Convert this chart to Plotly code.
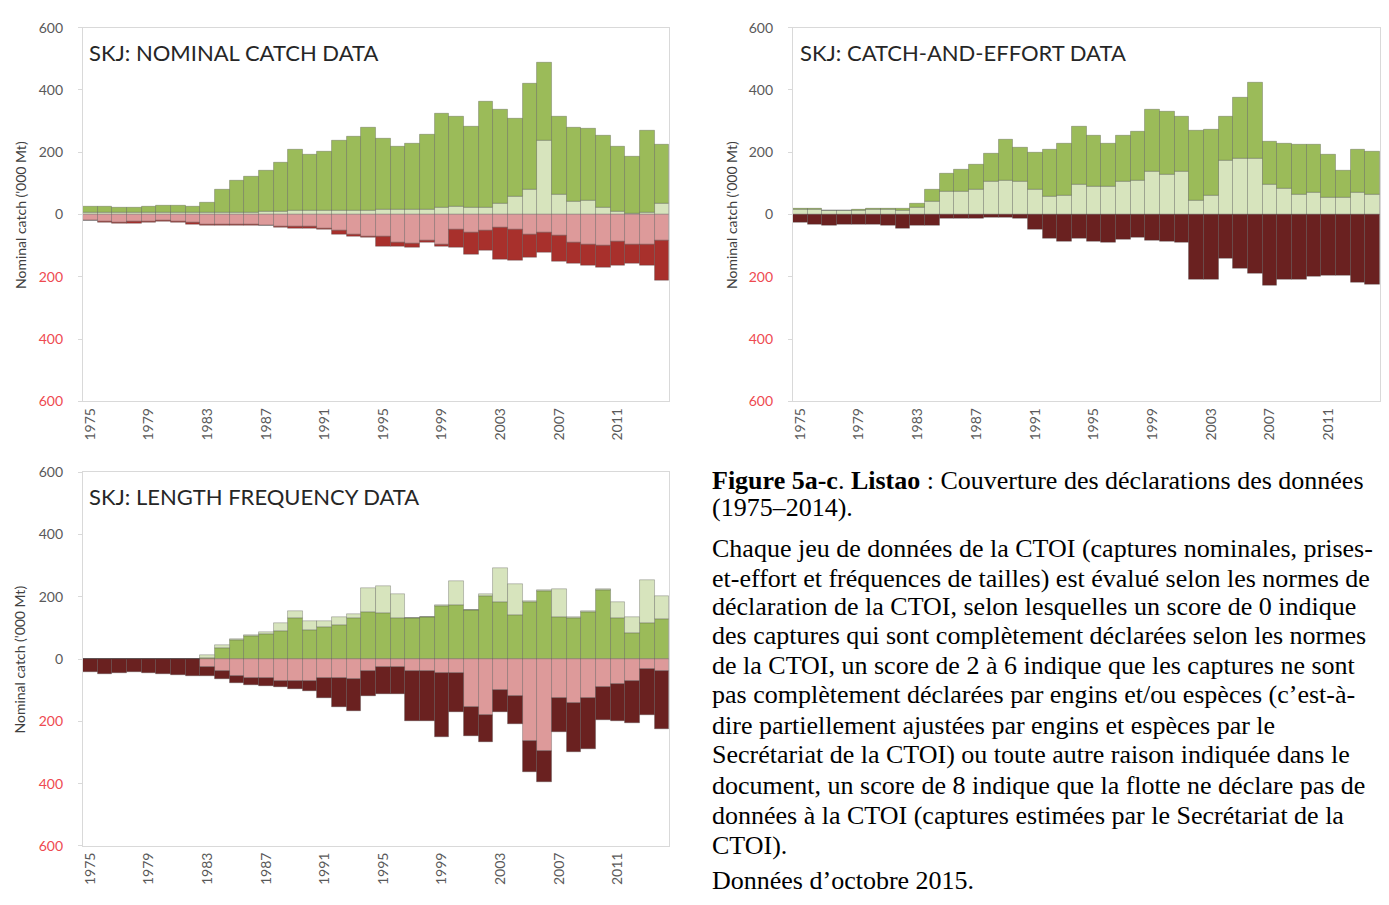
import plotly.graph_objects as go

years = list(range(1975, 2015))

# ---------------- Panel a: nominal catch ('000 t) ----------------
a_light = [6, 6, 5, 5, 6, 6, 6, 6, 6, 6, 6, 7, 10, 10, 12, 12, 12, 12, 14, 14,
           15, 15, 15, 15, 23, 26, 21, 21, 35, 58, 79, 236, 65, 40, 46, 21, 8, 2, 5, 35]
a_green = [18, 20, 16, 16, 20, 22, 22, 20, 31, 73, 103, 114, 130, 156, 195, 179, 190, 224, 235, 265,
           230, 203, 214, 240, 300, 289, 260, 341, 303, 249, 341, 253, 250, 240, 231, 233, 209, 183, 266, 188]
a_pink = [-18, -22, -25, -24, -22, -20, -22, -27, -33, -31, -31, -31, -34, -38, -40, -40, -44, -52, -63, -72,
          -71, -89, -92, -84, -98, -47, -58, -52, -42, -49, -63, -58, -68, -89, -95, -100, -86, -95, -97, -84]
a_dark = [-3, -4, -4, -4, -4, -4, -4, -4, -4, -3, -3, -3, -3, -4, -4, -4, -5, -11, -8, -3,
          -32, -14, -13, -5, -5, -58, -71, -64, -103, -98, -74, -63, -84, -69, -68, -70, -77, -63, -66, -129]

# ---------------- Panel b: catch-and-effort ----------------
b_light = [15, 16, 12, 12, 14, 17, 16, 13, 23, 42, 73, 75, 79, 105, 110, 105, 79, 58, 60, 97,
           89, 91, 105, 108, 139, 129, 137, 45, 61, 173, 180, 180, 95, 84, 65, 70, 53, 53, 71, 65]
b_green = [3, 3, 2, 2, 3, 3, 3, 6, 11, 39, 58, 69, 82, 92, 131, 110, 121, 152, 169, 184,
           165, 138, 147, 159, 199, 202, 178, 225, 212, 140, 196, 245, 138, 143, 160, 155, 138, 88, 139, 137]
b_dark = [-26, -33, -34, -32, -31, -31, -37, -44, -34, -34, -13, -13, -13, -11, -11, -14, -49, -77, -87, -77,
          -87, -91, -80, -75, -84, -86, -91, -210, -208, -142, -173, -189, -229, -210, -208, -199, -196, -197, -220, -226]

# ---------------- Panel c: length frequency ----------------
c_green = [0, 0, 0, 0, 0, 0, 0, 0, 3, 36, 62, 72, 81, 91, 130, 93, 104, 109, 130, 151,
           146, 130, 130, 133, 170, 174, 156, 203, 184, 140, 182, 219, 135, 130, 151, 222, 132, 82, 114, 128]
c_light = [0, 0, 0, 0, 0, 0, 0, 0, 8, 8, 2, 4, 4, 23, 24, 28, 17, 24, 15, 78,
           88, 78, 0, 2, 2, 76, 0, 5, 108, 100, 5, 3, 91, 3, 2, 2, 52, 51, 138, 73]
c_pink = [0, 0, 0, 0, 0, 0, 0, 0, -27, -38, -55, -62, -62, -72, -72, -72, -62, -62, -66, -40,
          -27, -25, -38, -38, -46, -46, -153, -179, -100, -119, -263, -294, -127, -142, -127, -90, -80, -71, -32, -40]
c_dark = [-43, -48, -45, -43, -45, -48, -53, -56, -28, -28, -21, -21, -26, -18, -23, -32, -65, -91, -102, -80,
          -84, -86, -162, -162, -206, -123, -94, -89, -69, -91, -99, -100, -108, -158, -161, -105, -120, -134, -147, -186]

panel_titles = ["SKJ: NOMINAL CATCH DATA", "SKJ: CATCH-AND-EFFORT DATA", "SKJ: LENGTH FREQUENCY DATA"]
x_tick_years = list(range(1975, 2015, 4))
y_tick_vals = [-600, -400, -200, 0, 200, 400, 600]
y_tick_labels = ["600", "400", "200", "0", "200", "400", "600"]

GREEN = "#9bbb59"
LIGHT = "#d7e4bd"
PINK = "#dd9a9a"
BRICK = "#a8302c"
MAROON = "#6a2120"
EDGE = "rgba(70,70,70,0.45)"

fig = go.Figure()


def add(vals, color, xa, ya):
    fig.add_trace(go.Bar(x=years, y=vals, xaxis=xa, yaxis=ya, showlegend=False,
                         marker=dict(color=color, line=dict(color=EDGE, width=0.7))))


# panel a
add(a_light, LIGHT, "x", "y")
add(a_green, GREEN, "x", "y")
add(a_pink, PINK, "x", "y")
add(a_dark, BRICK, "x", "y")
# panel b
add(b_light, LIGHT, "x2", "y2")
add(b_green, GREEN, "x2", "y2")
add(b_dark, MAROON, "x2", "y2")
# panel c
add(c_green, GREEN, "x3", "y3")
add(c_light, LIGHT, "x3", "y3")
add(c_pink, PINK, "x3", "y3")
add(c_dark, MAROON, "x3", "y3")

W, H = 1389, 905


def px_x(v):
    return v / W


def px_y(v):
    return 1 - v / H


RED = "#ee4a50"
ticktext = []
for v, t in zip(y_tick_vals, y_tick_labels):
    if v < 0:
        ticktext.append('<span style="color:%s">%s</span>' % (RED, t))
    else:
        ticktext.append(t)

FONT = "Lato"
frame = "#d9d9d9"

xcommon = dict(range=[1974.5, 2014.5], tickmode="array", tickvals=x_tick_years,
               ticktext=[str(y) for y in x_tick_years], tickangle=-90,
               tickfont=dict(family=FONT, size=14, color="#595959"),
               showgrid=False, zeroline=False, showline=True, mirror=True,
               linecolor=frame, linewidth=1, ticks="")
ycommon = dict(range=[-600, 600], tickmode="array", tickvals=y_tick_vals, ticktext=ticktext,
               tickfont=dict(family=FONT, size=14, color="#595959"),
               showgrid=False, zeroline=False, showline=True, mirror=True,
               linecolor=frame, linewidth=1, ticks="outside", ticklen=4, tickcolor=frame,
               ticklabelstandoff=12)

dom_xa = [px_x(81), px_x(668)]
dom_xb = [px_x(792), px_x(1380)]
dom_top = [px_y(400), px_y(19)]
dom_bot = [px_y(853), px_y(472)]

fig.update_layout(
    width=W, height=H, margin=dict(l=0, r=0, t=0, b=0),
    paper_bgcolor="white", plot_bgcolor="white",
    barmode="relative", bargap=0,
    xaxis=dict(domain=dom_xa, anchor="y", **xcommon),
    yaxis=dict(domain=dom_top, anchor="x", **ycommon),
    xaxis2=dict(domain=dom_xb, anchor="y2", **xcommon),
    yaxis2=dict(domain=dom_top, anchor="x2", **ycommon),
    xaxis3=dict(domain=dom_xa, anchor="y3", **xcommon),
    yaxis3=dict(domain=dom_bot, anchor="x3", **ycommon),
)

annotations = []
# panel titles
for (tx, ty), title in zip([(85, 44), (797, 44), (85, 497)], panel_titles):
    annotations.append(dict(x=px_x(tx), y=px_y(ty), xref="paper", yref="paper", text=title,
                            showarrow=False, xanchor="left", yanchor="middle",
                            font=dict(family=FONT, size=22, color="#262626")))
# y-axis titles
for (tx, ty) in [(18, 210), (730, 210), (18, 663)]:
    annotations.append(dict(x=px_x(tx), y=px_y(ty), xref="paper", yref="paper",
                            text="Nominal catch ('000 Mt)", textangle=-90, showarrow=False,
                            xanchor="center", yanchor="middle",
                            font=dict(family=FONT, size=14, color="#404040")))

caption_lines = [
    ("<b>Figure 5a-c</b>. <b>Listao</b> : Couverture des déclarations des données", 481),
    ("(1975–2014).", 508),
    ("Chaque jeu de données de la CTOI (captures nominales, prises-", 550),
    ("et-effort et fréquences de tailles) est évalué selon les normes de", 580),
    ("déclaration de la CTOI, selon lesquelles un score de 0 indique", 609),
    ("des captures qui sont complètement déclarées selon les normes", 639),
    ("de la CTOI, un score de 2 à 6 indique que les captures ne sont", 669),
    ("pas complètement déclarées par engins et/ou espèces (c’est-à-", 699),
    ("dire partiellement ajustées par engins et espèces par le", 730),
    ("Secrétariat de la CTOI) ou toute autre raison indiquée dans le", 760),
    ("document, un score de 8 indique que la flotte ne déclare pas de", 791),
    ("données à la CTOI (captures estimées par le Secrétariat de la", 822),
    ("CTOI).", 853),
    ("Données d’octobre 2015.", 888),
]
for text, ly in caption_lines:
    annotations.append(dict(x=px_x(709), y=px_y(ly), xref="paper", yref="paper", text=text,
                            showarrow=False, xanchor="left", yanchor="middle",
                            font=dict(family="Liberation Serif", size=26, color="#000000")))

fig.update_layout(annotations=annotations)

fig.write_html("out.html", config={"displayModeBar": False},
               post_script="document.body.style.margin='0';document.body.style.overflow='hidden';")
